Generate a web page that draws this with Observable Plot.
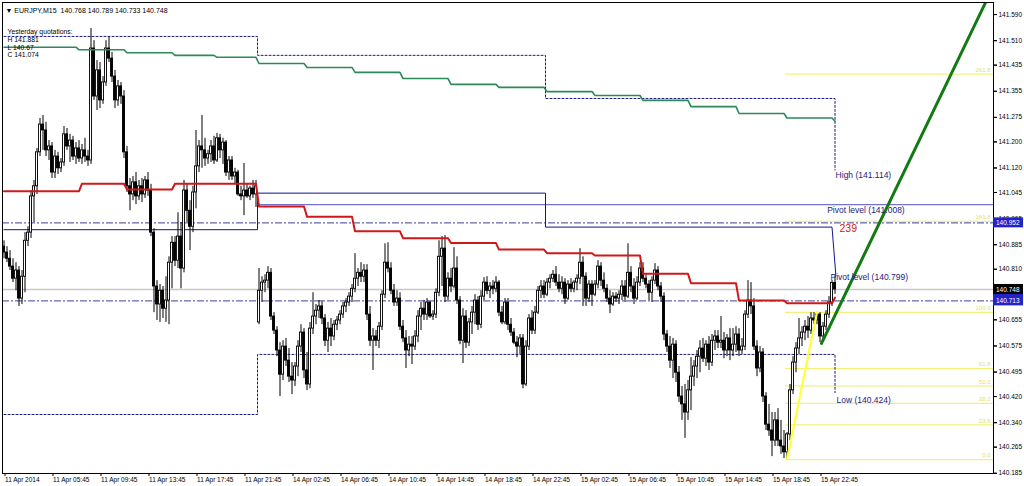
<!DOCTYPE html>
<html><head><meta charset="utf-8">
<script src="https://cdn.jsdelivr.net/npm/d3@7"></script>
<script src="https://cdn.jsdelivr.net/npm/@observablehq/plot@0.6"></script>
<style>
html,body{margin:0;padding:0;background:#fff;}
#chart{width:1024px;height:486px;overflow:hidden;}
</style></head><body><div id="chart"></div>
<script>
// ---------- header / text values ----------
const symbolName = "EURJPY,M15";
const lastBarOHLC = ["140.768", "140.789", "140.733", "140.748"];
const yesterdayTitle = "Yesterday quotations:";
const yesterdayLines = ["H 141.881", "L 140.67", "C 141.074"];

// ---------- candles (15-minute bars, index 0 = first bar) ----------
const opens = [140.879,140.861,140.842,140.818,140.781,140.806,140.720,140.787,140.897,140.922,
141.033,141.064,141.168,141.253,141.235,141.174,141.186,141.106,141.155,141.119,
141.137,141.223,141.186,141.204,141.155,141.180,141.149,141.174,141.155,141.143,
141.486,141.339,141.419,141.327,141.382,141.486,141.455,141.400,141.327,141.370,
141.339,141.168,141.064,141.039,141.076,141.033,141.064,141.039,141.082,141.051,
140.922,140.757,140.702,140.744,140.689,140.714,140.830,140.891,140.836,140.910,
140.812,141.051,140.989,140.940,141.045,141.125,141.186,141.174,141.149,141.162,
141.186,141.143,141.211,141.174,141.198,141.106,141.143,141.094,141.106,141.039,
141.033,141.051,141.033,141.057,141.039,140.647,140.744,140.769,140.775,140.799,
140.665,140.622,140.561,140.487,140.573,140.530,140.481,140.469,140.512,140.573,
140.616,140.500,140.457,140.628,140.665,140.683,140.696,140.659,140.591,140.628,
140.604,140.640,140.653,140.671,140.696,140.708,140.726,140.750,140.781,140.799,
140.787,140.806,140.671,140.591,140.604,140.591,140.634,140.732,140.830,140.812,
140.744,140.708,140.720,140.634,140.598,140.561,140.579,140.573,140.604,140.665,
140.689,140.671,140.708,140.665,140.671,140.738,140.848,140.873,140.726,140.781,
140.757,140.812,140.714,140.591,140.665,140.585,140.647,140.677,140.714,140.640,
140.726,140.769,140.744,140.757,140.750,140.769,140.677,140.647,140.708,140.640,
140.616,140.585,140.573,140.598,140.457,140.573,140.659,140.622,140.677,140.744,
140.757,140.732,140.769,140.781,140.793,140.769,140.750,140.769,140.720,140.763,
140.750,140.769,140.781,140.830,140.787,140.720,140.763,140.732,140.763,140.818,
140.775,140.750,140.720,140.702,140.726,140.720,140.732,140.757,140.726,140.799,
140.757,140.720,140.769,140.812,140.781,140.763,140.738,140.775,140.806,140.757,
140.726,140.610,140.573,140.530,140.579,140.493,140.420,140.396,140.371,140.439,
140.481,140.512,140.542,140.567,140.536,140.579,140.524,140.591,140.604,140.585,
140.591,140.561,140.598,140.561,140.579,140.610,140.561,140.573,140.671,140.714,
140.696,140.573,140.506,140.555,140.420,140.334,140.316,140.285,140.347,140.285,
140.267,140.249,140.304,140.439,140.524,140.567,140.598,140.616,140.634,140.622,
140.659,140.653,140.671,140.604,140.634,140.671,140.708,140.768];
const highs = [140.897,140.879,140.867,140.842,140.830,140.818,140.806,140.922,140.940,141.051,
141.082,141.180,141.272,141.281,141.260,141.204,141.198,141.174,141.168,141.149,
141.247,141.241,141.223,141.217,141.198,141.204,141.192,141.211,141.174,141.547,
141.510,141.449,141.443,141.400,141.510,141.520,141.474,141.419,141.388,141.382,
141.357,141.186,141.088,141.094,141.106,141.082,141.088,141.094,141.106,141.070,
140.934,140.775,140.763,140.757,140.787,140.848,140.910,140.910,140.983,140.953,
141.082,141.070,141.020,141.064,141.235,141.204,141.281,141.211,141.174,141.204,
141.217,141.226,141.223,141.211,141.204,141.155,141.155,141.119,141.113,141.064,
141.134,141.070,141.064,141.082,141.082,140.812,140.787,140.793,140.818,140.812,
140.677,140.634,140.585,140.591,140.598,140.567,140.524,140.524,140.591,140.640,
140.628,140.555,140.647,140.738,140.702,140.714,140.714,140.671,140.647,140.659,
140.653,140.665,140.683,140.708,140.720,140.738,140.763,140.858,140.812,140.830,
140.824,140.824,140.696,140.628,140.622,140.647,140.744,140.888,140.891,140.830,
140.763,140.744,140.738,140.653,140.622,140.604,140.604,140.622,140.683,140.708,
140.714,140.720,140.714,140.683,140.750,140.897,140.910,140.913,140.799,140.812,
140.876,140.848,140.726,140.689,140.683,140.659,140.696,140.732,140.726,140.744,
140.784,140.787,140.769,140.775,140.787,140.775,140.696,140.720,140.720,140.659,
140.628,140.604,140.610,140.610,140.591,140.671,140.683,140.696,140.757,140.775,
140.775,140.781,140.793,140.806,140.818,140.793,140.787,140.781,140.775,140.781,
140.775,140.793,140.873,140.848,140.799,140.775,140.775,140.775,140.836,140.830,
140.799,140.763,140.744,140.738,140.738,140.744,140.775,140.775,140.888,140.818,
140.781,140.787,140.830,140.830,140.793,140.775,140.787,140.827,140.818,140.769,
140.738,140.622,140.604,140.598,140.591,140.512,140.451,140.457,140.469,140.539,
140.530,140.561,140.591,140.598,140.591,140.604,140.610,140.622,140.622,140.665,
140.616,140.610,140.628,140.628,140.634,140.628,140.598,140.683,140.775,140.769,
140.720,140.591,140.573,140.567,140.432,140.396,140.371,140.371,140.383,140.347,
140.316,140.310,140.457,140.542,140.585,140.659,140.634,140.653,140.665,140.677,
140.677,140.678,140.677,140.647,140.683,140.726,140.775,140.789];
const lows = [140.842,140.830,140.806,140.769,140.744,140.696,140.702,140.738,140.879,140.904,
140.953,141.039,141.155,141.174,141.155,141.143,141.088,141.088,141.100,141.106,
141.125,141.174,141.137,141.143,141.131,141.137,141.131,141.137,141.125,141.131,
141.327,141.296,141.302,141.315,141.370,141.443,141.382,141.302,141.309,141.315,
141.149,141.045,140.989,141.020,141.008,141.020,141.014,141.027,141.033,140.910,
140.677,140.653,140.647,140.659,140.647,140.640,140.750,140.818,140.812,140.750,
140.799,140.953,140.867,140.922,140.995,141.106,141.119,141.125,141.131,141.137,
141.131,141.137,141.149,141.131,141.094,141.082,141.082,141.070,141.033,141.020,
140.974,141.027,141.020,141.027,140.999,140.640,140.708,140.738,140.750,140.653,
140.610,140.542,140.420,140.469,140.512,140.463,140.426,140.451,140.481,140.555,
140.475,140.438,140.444,140.610,140.640,140.659,140.640,140.573,140.555,140.573,
140.591,140.622,140.640,140.659,140.677,140.696,140.708,140.738,140.757,140.769,
140.769,140.653,140.573,140.500,140.573,140.567,140.622,140.720,140.799,140.732,
140.696,140.696,140.622,140.585,140.506,140.542,140.518,140.561,140.585,140.622,
140.653,140.653,140.659,140.653,140.659,140.726,140.757,140.708,140.714,140.738,
140.750,140.702,140.579,140.521,140.567,140.573,140.610,140.640,140.622,140.628,
140.714,140.732,140.720,140.732,140.738,140.665,140.640,140.640,140.622,140.604,
140.579,140.539,140.549,140.444,140.451,140.561,140.610,140.610,140.671,140.720,
140.720,140.726,140.750,140.769,140.757,140.738,140.732,140.702,140.714,140.738,
140.738,140.744,140.763,140.696,140.696,140.708,140.696,140.726,140.750,140.757,
140.738,140.708,140.674,140.696,140.708,140.702,140.714,140.708,140.720,140.738,
140.702,140.714,140.757,140.769,140.750,140.714,140.708,140.763,140.744,140.708,
140.591,140.555,140.506,140.475,140.463,140.402,140.347,140.292,140.347,140.377,
140.451,140.475,140.493,140.524,140.512,140.500,140.512,140.561,140.567,140.567,
140.536,140.542,140.530,140.542,140.555,140.542,140.549,140.561,140.659,140.671,
140.561,140.481,140.493,140.402,140.316,140.298,140.236,140.267,140.267,140.243,
140.230,140.227,140.285,140.426,140.493,140.549,140.573,140.591,140.598,140.610,
140.640,140.640,140.585,140.591,140.622,140.659,140.696,140.733];
const closes = [140.861,140.842,140.818,140.781,140.806,140.720,140.787,140.897,140.922,141.033,
141.064,141.168,141.253,141.235,141.174,141.186,141.106,141.155,141.119,141.137,
141.223,141.186,141.204,141.155,141.180,141.149,141.174,141.155,141.143,141.486,
141.339,141.419,141.327,141.382,141.486,141.455,141.400,141.327,141.370,141.339,
141.168,141.064,141.039,141.076,141.033,141.064,141.039,141.082,141.051,140.922,
140.757,140.702,140.744,140.689,140.714,140.830,140.891,140.836,140.910,140.812,
141.051,140.989,140.940,141.045,141.125,141.186,141.174,141.149,141.162,141.186,
141.143,141.211,141.174,141.198,141.106,141.143,141.094,141.106,141.039,141.033,
141.051,141.033,141.057,141.039,141.064,140.744,140.769,140.775,140.799,140.665,
140.622,140.561,140.487,140.573,140.530,140.481,140.469,140.512,140.573,140.616,
140.500,140.457,140.628,140.665,140.683,140.696,140.659,140.591,140.628,140.604,
140.640,140.653,140.671,140.696,140.708,140.726,140.750,140.781,140.799,140.787,
140.806,140.671,140.591,140.604,140.591,140.634,140.732,140.830,140.812,140.744,
140.708,140.720,140.634,140.598,140.561,140.579,140.573,140.604,140.665,140.689,
140.671,140.708,140.665,140.671,140.738,140.848,140.873,140.726,140.781,140.757,
140.812,140.714,140.591,140.665,140.585,140.647,140.677,140.714,140.640,140.726,
140.769,140.744,140.757,140.750,140.769,140.677,140.647,140.708,140.640,140.616,
140.585,140.573,140.598,140.457,140.573,140.659,140.622,140.677,140.744,140.757,
140.732,140.769,140.781,140.793,140.769,140.750,140.769,140.720,140.763,140.750,
140.769,140.781,140.830,140.787,140.720,140.763,140.732,140.763,140.818,140.775,
140.750,140.720,140.702,140.726,140.720,140.732,140.757,140.726,140.799,140.757,
140.720,140.769,140.812,140.781,140.763,140.738,140.775,140.806,140.757,140.726,
140.610,140.573,140.530,140.579,140.493,140.420,140.396,140.371,140.439,140.481,
140.512,140.542,140.567,140.536,140.579,140.524,140.591,140.604,140.585,140.591,
140.561,140.598,140.561,140.579,140.610,140.561,140.573,140.671,140.714,140.696,
140.573,140.506,140.555,140.420,140.334,140.316,140.285,140.347,140.285,140.267,
140.249,140.304,140.439,140.524,140.567,140.598,140.616,140.634,140.622,140.659,
140.653,140.671,140.604,140.634,140.671,140.708,140.768,140.748];

// ---------- axes ----------
const timeTickBars = [0,16,32,48,64,80,96,112,128,144,160,176,192,208,224,240,256,272];
const timeTickLabels = ["11 Apr 2014","11 Apr 05:45","11 Apr 09:45","11 Apr 13:45","11 Apr 17:45","11 Apr 21:45",
  "14 Apr 02:45","14 Apr 06:45","14 Apr 10:45","14 Apr 14:45","14 Apr 18:45","14 Apr 22:45",
  "15 Apr 02:45","15 Apr 06:45","15 Apr 10:45","15 Apr 14:45","15 Apr 18:45","15 Apr 22:45"];
const priceTicks = [141.590,141.510,141.435,141.355,141.275,141.200,141.120,141.045,140.965,140.885,
  140.810,140.735,140.655,140.575,140.495,140.420,140.340,140.265,140.185];
const coveredTickLabels = [140.735]; // hidden under the bid-price flag in the reference

// ---------- indicator lines ----------
const greenStart = [0,25,41,57,71,85,101,117,133,149,165,181,197,213,229,245,261];
const greenValue = [141.490,141.482,141.473,141.465,141.459,141.440,141.428,141.413,141.394,141.376,141.367,141.354,141.342,141.327,141.308,141.287,141.273];
const greenLast = 141.263;
const redStart = [0,26,41,57,85,101,117,133,149,165,181,197,213,229,245,261];
const redValue = [141.049,141.072,141.054,141.072,141.002,140.971,140.926,140.905,140.890,140.870,140.859,140.852,140.796,140.767,140.714,140.706];
const redLast = 140.723;
const lastBar = 277;

const navyBars = [0,84.5,84.5,180.5,180.5,276,277.3];
const navyValues = [140.931,140.931,141.043,141.043,140.939,140.939,140.790];
const dayHighBars = [0,84.5,180.5,277];
const dayHighValues = [141.523,141.465,141.333,141.114];
const dayLowBars = [0,84.5,277];
const dayLowValues = [140.365,140.549,140.432];
const pivotPrevious = 141.008, pivotPreviousFrom = 84.5;
const dashDotLevels = [140.952, 140.713];
const bidPrice = 140.748;

// Fibonacci retracement
const fibLowBar = 261, fibHighBar = 271, fibLow = 140.227, fibHigh = 140.678, fibFrom = 260.5;
const fibRatios = [0, 23.6, 38.2, 50.0, 61.8, 100.0, 161.8, 261.8];
// green trend line
const trendBars = [272.5, 327.2];
const trendPrices = [140.583, 141.627];

// annotations
const annoText = ["High (141.114)", "Pivot level (141.008)", "Pivot level (140.799)", "Low (140.424)"];
const annoBar = [277.2, 274.4, 275.5, 277.5];
const annoPrice = [141.097, 140.990, 140.786, 140.410];
const countText = "239", countBar = 278.5, countPrice = 140.935;

// right-axis price flags (first one is almost entirely covered)
const flagPrices = [140.730, 140.952, 140.748, 140.713];
const flagColors = ["#2323c8", "#2323c8", "#000000", "#2323c8"];
const flagShowText = [false, true, true, true];

// ---------- build tables ----------
const candles = opens.map((o, i) => ({i, o, h: highs[i], l: lows[i], c: closes[i]}));
function stepPoints(starts, values, last) {
  const pts = [];
  starts.forEach((s, k) => {
    const e = k + 1 < starts.length ? starts[k + 1] - 1 : lastBar - 1;
    pts.push({x: s, y: values[k]}, {x: e, y: values[k]});
  });
  pts.push({x: lastBar, y: last});
  return pts;
}
const greenPts = stepPoints(greenStart, greenValue, greenLast);
const redPts = stepPoints(redStart, redValue, redLast);
const navyPts = navyBars.map((x, k) => ({x, y: navyValues[k]}));
const highPts = dayHighBars.map((x, k) => ({x, y: dayHighValues[k]}));
const lowPts = dayLowBars.map((x, k) => ({x, y: dayLowValues[k]}));
const fibLevels = fibRatios.map(r => ({r, p: fibLow + (fibHigh - fibLow) * r / 100, label: r.toFixed(1)}));
const trendPts = trendBars.map((x, k) => ({x, y: trendPrices[k]}));
const annos = annoText.map((t, k) => ({t, x: annoBar[k], y: annoPrice[k]}));
const headerLines = [yesterdayTitle, ...yesterdayLines];
const headerDy = [27, 35, 42.5, 50];

const xDomain = [-0.5, 329.833];
const yDomain = [140.1843, 141.6269];
const font = "Liberation Sans, Arial, sans-serif";

const plot = Plot.plot({
  width: 1024, height: 486,
  marginLeft: 2, marginRight: 31, marginTop: 2, marginBottom: 13,
  x: {domain: xDomain, axis: null},
  y: {domain: yDomain, axis: null},
  style: {fontFamily: font, fontSize: "7px", background: "#fff", color: "#000"},
  marks: [
    Plot.ruleY([bidPrice], {stroke: "#c8c8c8", strokeWidth: 1.5}),
    Plot.ruleY([pivotPrevious], {x1: () => pivotPreviousFrom, x2: () => xDomain[1], stroke: "#7474cc", strokeWidth: 1.2}),
    Plot.ruleY(fibLevels, {y: "p", x1: () => fibFrom, x2: () => xDomain[1], stroke: "#f2f27a", strokeWidth: 1.3,
      strokeDasharray: d => d.r === 161.8 ? "6,2,2,2" : null}),
    Plot.ruleY(dashDotLevels, {stroke: "#6666b0", strokeWidth: 1.2, strokeDasharray: "7,2,2,2"}),
    Plot.line(highPts, {x: "x", y: "y", curve: "step-after", stroke: "#1a1a80", strokeWidth: 1, strokeDasharray: "2,2"}),
    Plot.line(lowPts, {x: "x", y: "y", curve: "step-after", stroke: "#1a1a80", strokeWidth: 1, strokeDasharray: "2,2"}),
    Plot.line(navyPts, {x: "x", y: "y", stroke: "#14148a", strokeWidth: 1}),
    // candles
    Plot.ruleX(candles, {x: "i", y1: "l", y2: "h", stroke: "#000", strokeWidth: 1}),
    Plot.rect(candles, {x1: d => d.i - 0.5, x2: d => d.i + 0.5, insetLeft: 0.5, insetRight: 0.5,
      y1: "o", y2: "c", fill: d => d.c >= d.o ? "#fff" : "#000", stroke: "#000", strokeWidth: 0.9}),
    // indicators over candles
    Plot.line(greenPts, {x: "x", y: "y", stroke: "#2b8a58", strokeWidth: 1.6}),
    Plot.line(redPts, {x: "x", y: "y", stroke: "#d01818", strokeWidth: 2}),
    Plot.line([{x: fibLowBar, y: fibLow}, {x: fibHighBar, y: fibHigh}], {x: "x", y: "y", stroke: "#ffff3c", strokeWidth: 2.2}),
    Plot.line(trendPts, {x: "x", y: "y", stroke: "#127a12", strokeWidth: 3, clip: true}),
    // labels
    Plot.text(fibLevels, {x: () => xDomain[1], y: "p", text: "label", textAnchor: "end", dx: -3, dy: -4,
      fill: "#e0e070", fontSize: 6}),
    Plot.text(annos, {x: "x", y: "y", text: "t", textAnchor: "start", fill: "#1a1a80", fontSize: 8.5}),
    Plot.text([countText], {x: () => countBar, y: () => countPrice, text: d => d, textAnchor: "start", fill: "#d02020", fontSize: 10.5}),
    Plot.text([`\u25BC ${symbolName}  ${lastBarOHLC.join(" ")}`], {frameAnchor: "top-left", dx: 3, dy: 6, textAnchor: "start", fontSize: 7}),
    ...headerLines.map((t, k) => Plot.text([t], {frameAnchor: "top-left", dx: 5, dy: headerDy[k], textAnchor: "start", fontSize: 6.8})),
    // axes
    Plot.axisY(priceTicks, {anchor: "right", text: null, tickSize: 3}),
    Plot.axisY(priceTicks.filter(d => !coveredTickLabels.includes(d)), {anchor: "right", tickFormat: d => d.toFixed(3), tickSize: 3, tickPadding: 2, fontSize: 6.5}),
    Plot.axisX(timeTickBars, {anchor: "bottom", tickFormat: d => timeTickLabels[timeTickBars.indexOf(d)],
      textAnchor: "start", tickSize: 3, tickPadding: 1, dx: 1, fontSize: 6.5}),
    Plot.frame({stroke: "#000", strokeWidth: 1})
  ]
});
document.getElementById("chart").appendChild(plot);

// right-axis price flags drawn with the plot's y scale
const svg = d3.select(plot);
const yScale = plot.scale("y");
flagPrices.forEach((p, k) => {
  const y = yScale.apply(p);
  svg.append("rect").attr("x", 993).attr("y", y - 5).attr("width", 30).attr("height", 10).attr("fill", flagColors[k]);
  if (flagShowText[k]) {
    svg.append("text").attr("x", 996).attr("y", y + 0.5).attr("dy", "0.32em").attr("fill", "#fff")
      .attr("text-anchor", "start").attr("font-size", 6.5).attr("font-family", font).text(p.toFixed(3));
  }
});
</script></body></html>
